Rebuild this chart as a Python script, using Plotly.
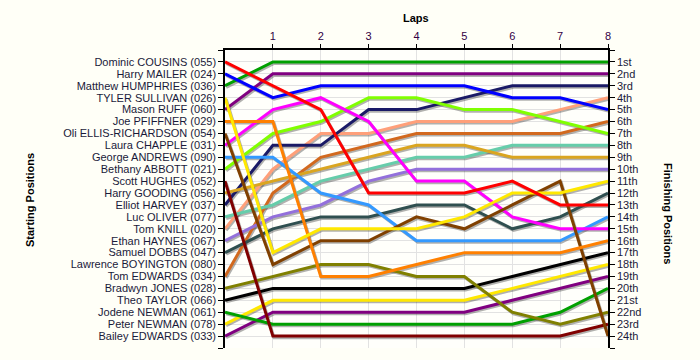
import plotly.graph_objects as go

laps = [0, 1, 2, 3, 4, 5, 6, 7, 8]

starting_names = [
    "Dominic COUSINS (055)", "Harry MAILER (024)", "Matthew HUMPHRIES (036)",
    "TYLER SULLIVAN (026)", "Mason RUFF (060)", "Joe PFIFFNER (029)",
    "Oli ELLIS-RICHARDSON (054)", "Laura CHAPPLE (031)", "George ANDREWS (090)",
    "Bethany ABBOTT (021)", "Scott HUGHES (052)", "Harry GOODING (056)",
    "Elliot HARVEY (037)", "Luc OLIVER (077)", "Tom KNILL (020)",
    "Ethan HAYNES (067)", "Samuel DOBBS (047)", "Lawrence BOYINGTON (080)",
    "Tom EDWARDS (034)", "Bradwyn JONES (028)", "Theo TAYLOR (066)",
    "Jodene NEWMAN (061)", "Peter NEWMAN (078)", "Bailey EDWARDS (033)",
]

finishing_labels = [
    "1st", "2nd", "3rd", "4th", "5th", "6th", "7th", "8th", "9th", "10th",
    "11th", "12th", "13th", "14th", "15th", "16th", "17th", "18th", "19th",
    "20th", "21st", "22nd", "23rd", "24th",
]

# Position of each rider at lap 0..8
pos_cousins = [1, 3, 5, 12, 12, 12, 11, 13, 13]
pos_mailer = [2, 4, 3, 3, 3, 3, 4, 4, 5]
pos_humphries = [3, 1, 1, 1, 1, 1, 1, 1, 1]
pos_sullivan = [4, 17, 15, 15, 15, 14, 12, 12, 11]
pos_ruff = [5, 2, 2, 2, 2, 2, 2, 2, 2]
pos_pfiffner = [6, 6, 19, 19, 18, 17, 17, 17, 16]
pos_ellis = [7, 18, 16, 16, 14, 15, 13, 11, 24]
pos_chapple = [8, 5, 4, 6, 11, 11, 14, 15, 15]
pos_andrews = [9, 9, 12, 13, 16, 16, 16, 16, 14]
pos_abbott = [10, 7, 6, 4, 4, 5, 5, 6, 7]
pos_hughes = [11, 24, 24, 24, 24, 24, 24, 24, 23]
pos_gooding = [12, 11, 10, 9, 8, 8, 9, 9, 9]
pos_harvey = [13, 8, 8, 5, 5, 4, 3, 3, 3]
pos_oliver = [14, 13, 11, 10, 9, 9, 8, 8, 8]
pos_knill = [15, 10, 7, 7, 6, 6, 6, 5, 4]
pos_haynes = [16, 14, 13, 11, 10, 10, 10, 10, 10]
pos_dobbs = [17, 15, 14, 14, 13, 13, 15, 14, 12]
pos_t_edwards = [19, 12, 9, 8, 7, 7, 7, 7, 6]
pos_jones = [20, 19, 18, 18, 19, 19, 22, 23, 22]
pos_taylor = [21, 20, 20, 20, 20, 20, 19, 18, 17]
pos_j_newman = [22, 23, 23, 23, 23, 23, 23, 22, 20]
pos_p_newman = [23, 21, 21, 21, 21, 21, 20, 19, 18]
pos_b_edwards = [24, 22, 22, 22, 22, 22, 21, 20, 19]

series = [
    (pos_b_edwards, "#800080"),
    (pos_p_newman, "#FFE800"),
    (pos_j_newman, "#00A000"),
    (pos_taylor, "#000000"),
    (pos_jones, "#808000"),
    (pos_t_edwards, "#D2691E"),
    (pos_dobbs, "#2F4F4F"),
    (pos_haynes, "#9370DB"),
    (pos_knill, "#FFA07A"),
    (pos_oliver, "#66CDAA"),
    (pos_harvey, "#1A1A66"),
    (pos_gooding, "#DAA520"),
    (pos_hughes, "#800000"),
    (pos_abbott, "#80FF00"),
    (pos_andrews, "#3399FF"),
    (pos_chapple, "#FF00FF"),
    (pos_ellis, "#804000"),
    (pos_pfiffner, "#FF8000"),
    (pos_ruff, "#800080"),
    (pos_sullivan, "#FFE800"),
    (pos_humphries, "#00A000"),
    (pos_mailer, "#0000FF"),
    (pos_cousins, "#FF0000"),
]

fig = go.Figure()

# shadows
for ys, col in series:
    fig.add_trace(go.Scatter(
        x=[v + 0.025 for v in laps], y=[v + 0.13 for v in ys], mode="lines",
        line=dict(color="rgba(60,60,60,0.4)", width=3),
        hoverinfo="skip", showlegend=False,
    ))
for ys, col in series:
    fig.add_trace(go.Scatter(
        x=laps, y=ys, mode="lines",
        line=dict(color=col, width=3),
        showlegend=False,
    ))

# dummy trace for right axis
fig.add_trace(go.Scatter(x=[None], y=[None], yaxis="y2", showlegend=False))

font_family = "Liberation Sans, Arial, sans-serif"
txt_col = "#1a1a3a"

left_vals = list(range(0, 26))
left_text = [""] + starting_names + [""]
right_text = [""] + finishing_labels + [""]

ML, MR, MT, MB = 225, 92, 50, 12
W, H = 700, 360

fig.update_layout(
    width=W, height=H,
    margin=dict(l=ML, r=MR, t=MT, b=MB, autoexpand=False),
    paper_bgcolor="#FFFFF7",
    plot_bgcolor="#FFFFFB",
    font=dict(family=font_family, size=11, color=txt_col),
    xaxis=dict(
        side="top", range=[0, 8], tickvals=[1, 2, 3, 4, 5, 6, 7, 8],
        ticks="outside", ticklen=4, tickcolor="black",
        showline=True, linecolor="black", linewidth=1.5,
        showgrid=True, gridcolor="#E2E2E2", gridwidth=1,
        zeroline=False, tickfont=dict(size=11, color="#330044"),
        automargin=False,
    ),
    yaxis=dict(
        range=[25, 0], tickvals=left_vals, ticktext=left_text,
        ticks="outside", ticklen=5, tickcolor="black",
        showline=True, linecolor="black", linewidth=1.5,
        showgrid=True, gridcolor="#E2E2E2", gridwidth=1,
        zeroline=False, tickfont=dict(size=11, color=txt_col),
        automargin=False,
    ),
    yaxis2=dict(
        range=[25, 0], tickvals=left_vals, ticktext=right_text,
        overlaying="y", side="right",
        ticks="outside", ticklen=5, tickcolor="black",
        showline=True, linecolor="black", linewidth=1.5,
        showgrid=False, zeroline=False, tickfont=dict(size=11, color=txt_col),
        automargin=False,
    ),
)

pw = W - ML - MR
ph = H - MT - MB


def px2paper(px, py):
    return (px - ML) / pw, 1 - (py - MT) / ph


anns = [
    ("<b>Laps</b>", 416, 18, 0),
    ("<b>Starting Positions</b>", 30, 200, -90),
    ("<b>Finishing Positions</b>", 668, 213, 90),
]
for text, px, py, ang in anns:
    ax, ay = px2paper(px, py)
    fig.add_annotation(text=text, x=ax, y=ay, xref="paper", yref="paper",
                       xanchor="center", yanchor="middle", textangle=ang,
                       showarrow=False, font=dict(size=11, color="black"))

fig.write_html(
    "out.html",
    config={"displayModeBar": False},
    post_script="document.body.style.margin='0';document.body.style.background='#FFFFF7';",
)
